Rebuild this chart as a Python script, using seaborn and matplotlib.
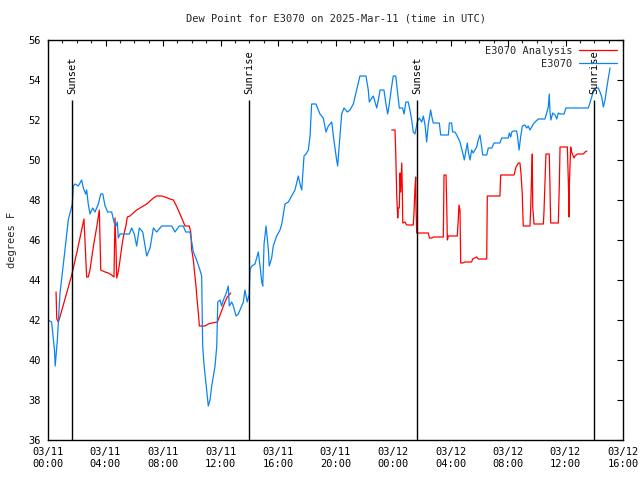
import numpy as np
import pandas as pd
import matplotlib
matplotlib.use("Agg")
import matplotlib.pyplot as plt
import seaborn as sns

# ---------------- data (hours since 2025-03-11 00:00 UTC, degrees F) -------------
station_hours = [0.0, 0.25, 0.45, 0.5, 0.65, 0.83, 1.18, 1.41, 1.69, 1.76, 1.88, 2.11, 2.34, 2.46,
                 2.62, 2.69, 2.80, 2.92, 3.11, 3.27, 3.50, 3.67, 3.81, 3.97, 4.15, 4.43, 4.59, 4.73,
                 4.82, 4.89, 5.01, 5.24, 5.66, 5.82, 6.00, 6.17, 6.35, 6.59, 6.87, 7.10, 7.33, 7.56,
                 7.91, 8.61, 8.83, 9.13, 9.41, 9.58, 9.88, 10.00, 10.11, 10.34, 10.57, 10.69, 10.76,
                 10.85, 10.99, 11.15, 11.27, 11.39, 11.62, 11.74, 11.81, 11.97, 12.08, 12.20, 12.38,
                 12.54, 12.61, 12.78, 12.89, 13.08, 13.24, 13.59, 13.70, 13.86, 14.00, 14.05, 14.17,
                 14.40, 14.63, 14.75, 14.87, 14.94, 15.03, 15.17, 15.33, 15.39, 15.56, 15.67, 15.91,
                 16.14, 16.26, 16.49, 16.72, 16.95, 17.18, 17.41, 17.53, 17.65, 17.81, 17.95, 18.11,
                 18.23, 18.34, 18.64, 18.92, 19.15, 19.34, 19.50, 19.74, 19.85, 20.08, 20.15, 20.31,
                 20.43, 20.59, 20.82, 21.01, 21.24, 21.47, 21.70, 22.12, 22.28, 22.35, 22.52, 22.63,
                 22.87, 22.98, 23.10, 23.37, 23.51, 23.63, 23.74, 23.91, 24.02, 24.19, 24.30, 24.44,
                 24.67, 24.77, 24.90, 25.06, 25.18, 25.30, 25.41, 25.53, 25.69, 25.83, 26.00, 26.11,
                 26.23, 26.34, 26.46, 26.62, 26.69, 26.80, 27.22, 27.32, 27.85, 27.92, 28.08, 28.15,
                 28.31, 28.43, 28.66, 28.85, 28.96, 29.08, 29.17, 29.24, 29.36, 29.47, 29.58, 29.70,
                 29.82, 29.93, 30.05, 30.17, 30.24, 30.52, 30.63, 30.87, 31.03, 31.44, 31.56, 32.02,
                 32.09, 32.19, 32.26, 32.37, 32.60, 32.67, 32.77, 32.88, 33.00, 33.18, 33.30, 33.41,
                 33.53, 33.65, 33.76, 33.88, 34.11, 34.57, 34.69, 34.80, 34.87, 34.92, 34.99, 35.11,
                 35.27, 35.39, 35.50, 35.62, 35.90, 36.03, 37.58, 37.70, 37.82, 37.93, 38.12, 38.28,
                 38.40, 38.52, 38.63, 38.75, 38.87, 38.98, 39.10]
station_dewpt = [42.0, 41.9, 40.5, 39.7, 41.0, 43.3, 45.5, 47.0, 47.8, 48.7, 48.8, 48.7, 49.0, 48.6,
                 48.3, 48.5, 47.8, 47.3, 47.6, 47.4, 47.8, 48.3, 48.3, 47.7, 47.4, 47.4, 46.9, 46.7,
                 46.9, 46.1, 46.3, 46.3, 46.3, 46.6, 46.3, 45.7, 46.6, 46.4, 45.2, 45.6, 46.6, 46.4,
                 46.7, 46.7, 46.4, 46.7, 46.7, 46.4, 46.4, 45.9, 45.4, 45.0, 44.5, 44.2, 40.7,
                 39.8, 38.8, 37.7, 38.0, 38.7, 39.7, 40.7, 42.9, 43.0, 42.7, 43.0, 43.3,
                 43.7, 42.7, 42.9, 42.7, 42.2, 42.3, 42.9, 43.5, 42.9, 43.3, 44.5, 44.7,
                 44.8, 45.4, 44.7, 43.9, 43.7, 45.8, 46.7, 45.5, 44.7, 45.1, 45.7, 46.2,
                 46.5, 46.8, 47.8, 47.9, 48.2, 48.5, 49.2, 48.8, 48.5, 50.2, 50.3, 50.5,
                 51.2, 52.8, 52.8, 52.3, 52.1, 51.4, 51.7, 51.9, 51.2, 50.0, 49.7, 51.2,
                 52.3, 52.6, 52.4, 52.5, 52.8, 53.5, 54.2, 54.2, 53.5, 52.9, 53.1, 53.2,
                 52.6, 53.0, 53.5, 53.5, 52.8, 52.3, 52.8, 53.7, 54.2, 54.2, 53.5, 52.6,
                 52.6, 52.3, 52.9, 52.9, 52.5, 52.0, 51.4, 51.3, 51.9, 52.1, 51.9, 52.2,
                 51.75, 50.9, 51.8, 52.5, 52.2, 51.85, 51.85, 51.25, 51.25, 51.85, 51.85, 51.4,
                 51.4, 51.25, 50.9, 50.35, 50.0, 50.5, 50.85, 50.4, 50.0, 50.5, 50.35, 50.5,
                 50.65, 51.0, 51.25, 50.65, 50.25, 50.25, 50.6, 50.6, 50.85, 50.85, 51.1, 51.1,
                 51.35, 51.15, 51.4, 51.45, 51.45, 51.15, 50.5, 51.15, 51.7, 51.75, 51.6, 51.7,
                 51.5, 51.65, 51.8, 51.9, 52.05, 52.05, 52.35, 52.65, 53.3, 52.4, 52.0, 52.35,
                 52.25, 52.05, 52.35, 52.3, 52.3, 52.6, 52.6, 52.85, 53.15, 53.4, 53.6, 53.6,
                 53.4, 53.15, 52.65, 53.0, 53.6, 54.1, 54.6]

analysis1_hours = [0.56, 0.61, 0.72, 0.83, 1.65, 2.00, 2.34, 2.50, 2.57, 2.64, 2.69, 2.80, 2.92, 3.15,
                   3.39, 3.57, 3.62, 3.67, 3.97, 4.19, 4.43, 4.59, 4.66, 4.73, 4.78, 4.89, 5.01, 5.13,
                   5.24, 5.43, 5.52, 5.70, 5.93, 6.17, 6.40, 6.63, 6.87, 7.10, 7.33, 7.56, 7.91, 8.14,
                   8.49, 8.72, 8.90, 9.06, 9.30, 9.53, 9.83, 9.93, 10.00, 10.11, 10.18, 10.30, 10.39,
                   10.46, 10.53, 10.92, 11.15, 11.39, 11.78, 11.97, 12.15, 12.31, 12.47, 12.71]
analysis1_dewpt = [43.4, 42.05, 41.9, 42.15, 44.25, 45.35, 46.5, 47.05, 46.0, 44.9, 44.15, 44.15, 44.5, 45.65,
                   46.65, 47.5, 46.0, 44.5, 44.4, 44.35, 44.25, 44.15, 47.1, 45.65, 44.1, 44.4, 45.0, 45.65,
                   46.15, 46.75, 47.15, 47.2, 47.35, 47.5, 47.6, 47.7, 47.8, 47.95, 48.1, 48.2, 48.2, 48.15,
                   48.05, 48.0, 47.75, 47.5, 47.1, 46.7, 46.7, 46.4, 45.5, 45.0, 44.5, 43.65, 42.85,
                   42.35, 41.7, 41.7, 41.8, 41.85, 41.9, 42.25, 42.6, 42.9, 43.15, 43.35]

analysis2_hours = [23.91, 24.14, 24.19, 24.26, 24.33, 24.37, 24.44, 24.49, 24.54, 24.61, 24.65, 24.68,
                   24.83, 24.95, 25.41, 25.46, 25.53, 25.58, 25.60, 25.65, 26.46, 26.53, 26.69, 26.80,
                   27.50, 27.55, 27.69, 27.74, 27.78, 27.85, 28.47, 28.54, 28.59, 28.66, 28.71, 28.85,
                   29.01, 29.47, 29.54, 29.82, 29.93, 30.52, 30.56, 31.44, 31.49, 32.42, 32.56, 32.72,
                   32.83, 32.90, 32.99, 33.06, 33.53, 33.58, 33.65, 33.69, 33.72, 33.81, 34.46, 34.50,
                   34.64, 34.87, 34.92, 34.97, 35.50, 35.57, 35.62, 36.13, 36.20, 36.25, 36.27, 36.36,
                   36.43, 36.59, 36.66, 36.82, 37.24, 37.36, 37.48]
analysis2_dewpt = [51.5, 51.5, 50.4, 48.2, 47.1, 47.6, 47.6, 49.35, 48.4, 49.85, 48.4, 46.85,
                   46.9, 46.75, 46.75, 47.35, 48.6, 49.15, 47.65, 46.35, 46.35, 46.1, 46.1, 46.15,
                   46.15, 49.25, 49.25, 47.65, 46.0, 46.2, 46.2, 47.0, 47.75, 47.5, 44.85, 44.85,
                   44.9, 44.9, 45.05, 45.15, 45.05, 45.05, 48.2, 48.2, 49.25, 49.25, 49.65, 49.85,
                   49.85, 49.35, 48.35, 46.7, 46.7, 47.65, 49.4, 50.3, 47.65, 46.8, 46.8, 47.35,
                   50.3, 50.3, 48.65, 46.85, 46.85, 48.75, 50.65, 50.65, 48.85, 47.15, 48.8, 50.65,
                   50.4, 50.1, 50.2, 50.3, 50.3, 50.4, 50.45]

series_names = ["E3070 Analysis", "E3070"]
sunset_hours = [1.67, 25.67]
sunrise_hours = [13.98, 37.98]
x_tick_hours = [0, 4, 8, 12, 16, 20, 24, 28, 32, 36, 40]
x_tick_labels = ["03/11\n00:00", "03/11\n04:00", "03/11\n08:00", "03/11\n12:00", "03/11\n16:00",
                 "03/11\n20:00", "03/12\n00:00", "03/12\n04:00", "03/12\n08:00", "03/12\n12:00",
                 "03/12\n16:00"]
y_ticks = [36, 38, 40, 42, 44, 46, 48, 50, 52, 54, 56]
title = "Dew Point for E3070 on 2025-Mar-11 (time in UTC)"
ylabel = "degrees F"

# ---------------- build table ----------------
df = pd.concat([
    pd.DataFrame({"hour": analysis1_hours, "dewpt": analysis1_dewpt,
                  "series": series_names[0], "seg": "a1"}),
    pd.DataFrame({"hour": analysis2_hours, "dewpt": analysis2_dewpt,
                  "series": series_names[0], "seg": "a2"}),
    pd.DataFrame({"hour": station_hours, "dewpt": station_dewpt,
                  "series": series_names[1], "seg": "s1"}),
], ignore_index=True)

sns.set_style("white")
FONT = ["DejaVu Sans Mono"]
plt.rcParams["font.family"] = FONT
plt.rcParams["font.size"] = 7

fig = plt.figure(figsize=(6.4, 4.8), dpi=100)
ax = fig.add_axes([48 / 640, 40 / 480, 575 / 640, 400 / 480])

palette = {series_names[0]: "#ff0000", series_names[1]: "#0a84f2"}
sns.lineplot(data=df, x="hour", y="dewpt", hue="series", units="seg", estimator=None,
             sort=False, palette=palette, linewidth=0.9, ax=ax, legend=True)

for h in sunset_hours:
    ax.vlines(h, 36, 53, color="black", linewidth=1.0)
    ax.text(h, 53.3, "Sunset", rotation=90, ha="center", va="bottom", fontsize=7.5, color="black")
for h in sunrise_hours:
    ax.vlines(h, 36, 53, color="black", linewidth=1.0)
    ax.text(h, 53.3, "Sunrise", rotation=90, ha="center", va="bottom", fontsize=7.5, color="black")

ax.set_xlim(0, 40)
ax.set_ylim(36, 56)
ax.set_xticks(x_tick_hours)
ax.set_xticklabels(x_tick_labels)
ax.set_xticks(np.arange(0, 41, 1), minor=True)
ax.set_yticks(y_ticks)
ax.set_yticklabels([str(v) for v in y_ticks])
ax.tick_params(axis="both", which="major", direction="in", length=4, width=0.8,
               top=True, right=True, labelsize=7.5, colors="black", pad=5)
ax.tick_params(axis="x", which="minor", direction="in", length=2.2, width=0.8, top=True)
ax.set_xlabel("")
ax.set_ylabel(ylabel, fontsize=7.5, labelpad=8)
ax.set_title(title, fontsize=7.5, pad=13)
for s in ax.spines.values():
    s.set_visible(True)
    s.set_color("black")
    s.set_linewidth(1.0)

handles, labels = ax.get_legend_handles_labels()
ax.legend(handles, labels, loc="upper right", markerfirst=False, frameon=False,
          handlelength=3.7, fontsize=7.5, borderaxespad=0.15, labelspacing=0.3,
          handletextpad=0.6)

fig.savefig("out.png", dpi=100)
